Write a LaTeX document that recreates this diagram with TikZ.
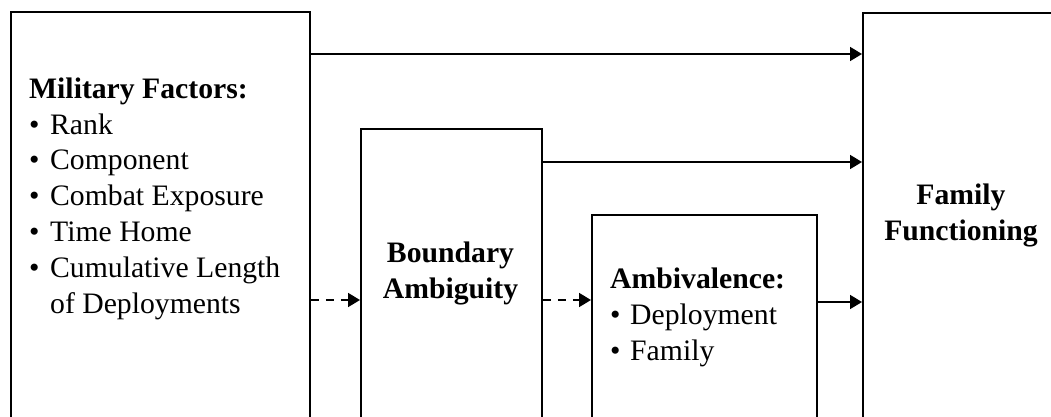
\documentclass[tikz,border=0pt]{standalone}
\usepackage{fontspec}
\setmainfont{Liberation Serif}
\usepackage{tikz}
\usetikzlibrary{positioning,shapes,arrows,arrows.meta,calc}
\newcommand{\itm}[1]{\makebox[21pt][l]{\textbullet}#1}

\begin{document}
\begin{tikzpicture}[x=1pt,y=-1pt,
    box/.style={draw,line width=1.8pt,anchor=north west,inner sep=0pt},
    txt/.style={font=\fontsize{29.7}{35.8}\selectfont,inner sep=0pt},
    flow/.style={line width=1.8pt,-{Triangle[length=12pt,width=14pt]}},
    dflow/.style={flow,dash pattern=on 8pt off 7pt}]
    \clip (0,0) rectangle (1051,416);
    \node[box,minimum width=299pt,minimum height=500pt] (mil) at (10,11) {};
    \node[box,minimum width=181pt,minimum height=400pt] (bnd) at (360,128) {};
    \node[box,minimum width=225pt,minimum height=300pt] (amb) at (591,214) {};
    \node[box,minimum width=200pt,minimum height=500pt] (fam) at (862,12) {};
    \node[txt,anchor=base west,align=left] (miltxt) at (29,313)
        {\textbf{Military Factors:}\\ \itm{Rank}\\ \itm{Component}\\
         \itm{Combat Exposure}\\ \itm{Time Home}\\ \itm{Cumulative Length}\\
         \hspace*{21pt}of Deployments};
    \node[txt,anchor=base,align=center] (bndtxt) at (450.5,298)
        {\textbf{Boundary}\\ \textbf{Ambiguity}};
    \node[txt,anchor=base west,align=left] (ambtxt) at (610,360)
        {\textbf{Ambivalence:}\\ \makebox[20pt][l]{\textbullet}Deployment\\
         \makebox[20pt][l]{\textbullet}Family};
    \node[txt,anchor=base,align=center] (famtxt) at (961,240)
        {\textbf{Family}\\ \textbf{Functioning}};
    \draw[flow] (mil.east |- 0,54) -- (fam.west |- 0,54);
    \draw[flow] (bnd.east |- 0,162) -- (fam.west |- 0,162);
    \draw[flow] (amb.east |- 0,302) -- (fam.west |- 0,302);
    \draw[dflow] (mil.east |- 0,300) -- (bnd.west |- 0,300);
    \draw[dflow] (bnd.east |- 0,300) -- (amb.west |- 0,300);
\end{tikzpicture}
\end{document}
